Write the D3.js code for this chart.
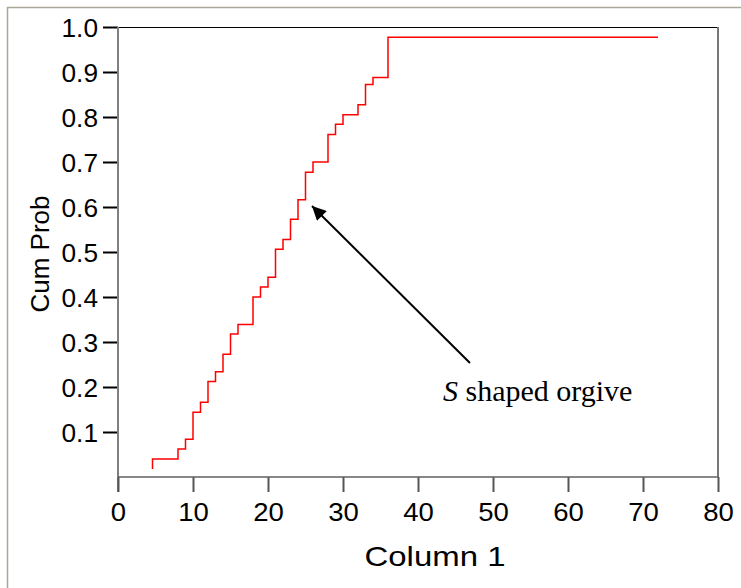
<!DOCTYPE html>
<html lang="en">
<head>
    <meta charset="UTF-8">
    <title>Cum Prob vs Column 1</title>
    <script src="https://d3js.org/d3.v7.min.js"></script>
    <style>
        body { margin: 0; background: white; }
        text { font-family: 'Liberation Sans', Arial, sans-serif; fill: black; }
        .note { font-family: 'Liberation Serif', 'Times New Roman', serif; }
    </style>
</head>
<body>
    <svg id="canvas" width="741" height="588"></svg>
    <script>
        // step positions (Column 1) and cumulative probability after each jump
        let stepX = [4.6, 8, 9, 10, 11, 12, 13, 14, 15, 16, 18, 19, 20, 21, 22, 23, 24, 25, 26, 28, 29, 30, 32, 33, 34, 36];
        let stepP = [0.040, 0.062, 0.084, 0.144, 0.166, 0.212, 0.234, 0.273, 0.318, 0.339, 0.400, 0.422, 0.444, 0.506,
                     0.528, 0.573, 0.616, 0.677, 0.700, 0.761, 0.784, 0.805, 0.827, 0.872, 0.888, 0.977];
        let startP = 0.018;
        let maxX = 72;
        let xTicks = [0, 10, 20, 30, 40, 50, 60, 70, 80];
        let yTicks = [0.1, 0.2, 0.3, 0.4, 0.5, 0.6, 0.7, 0.8, 0.9, 1.0];

        let svg = d3.select('#canvas');
        let x = d3.scaleLinear().domain([0, 80]).range([118, 718]);
        let y = d3.scaleLinear().domain([0, 1]).range([477, 27]);

        // outer panel border
        svg.append('rect')
            .attr('x', 7.5).attr('y', 7.5)
            .attr('width', 800).attr('height', 700)
            .attr('fill', 'white')
            .attr('stroke', '#aca899').attr('stroke-width', 1.5);

        // frame: top black, right gray
        svg.append('line')
            .attr('x1', x(0)).attr('x2', x(80)).attr('y1', y(1) + 0.5).attr('y2', y(1) + 0.5)
            .attr('stroke', 'black').attr('stroke-width', 1);
        svg.append('line')
            .attr('x1', x(80)).attr('x2', x(80)).attr('y1', y(1)).attr('y2', y(0))
            .attr('stroke', '#777').attr('stroke-width', 2);

        // y axis
        let yAxis = svg.append('g').attr('transform', 'translate(' + x(0) + ',0)')
            .call(d3.axisLeft(y).tickValues(yTicks).tickFormat(d3.format('.1f')).tickSize(15).tickPadding(5));
        yAxis.select('.domain').remove();
        yAxis.selectAll('.tick line').attr('stroke', 'black').attr('stroke-width', 2);
        yAxis.selectAll('.tick text')
            .attr('font-size', 25)
            .attr('dy', '0.36em')
            .attr('transform', 'translate(-20,0) scale(1.05,1) translate(20,0)');
        yAxis.append('line')
            .attr('x1', 0).attr('x2', 0).attr('y1', y(1)).attr('y2', y(0) + 15)
            .attr('stroke', '#808080').attr('stroke-width', 2);

        // x axis
        let xAxis = svg.append('g').attr('transform', 'translate(0,' + y(0) + ')')
            .call(d3.axisBottom(x).tickValues(xTicks).tickSize(15).tickPadding(11));
        xAxis.select('.domain').remove();
        xAxis.selectAll('.tick line').attr('stroke', '#555').attr('stroke-width', 2);
        xAxis.selectAll('.tick text')
            .attr('font-size', 25)
            .attr('transform', 'scale(1.1,1)');
        xAxis.append('line')
            .attr('x1', x(0)).attr('x2', x(80)).attr('y1', 0).attr('y2', 0)
            .attr('stroke', '#606060').attr('stroke-width', 1.5);

        // axis titles
        svg.append('text')
            .attr('text-anchor', 'middle')
            .attr('font-size', 27)
            .attr('transform', 'translate(435,566) scale(1.22,1)')
            .text('Column 1');
        svg.append('text')
            .attr('text-anchor', 'middle')
            .attr('font-size', 26)
            .attr('transform', 'translate(49,254) rotate(-90)')
            .text('Cum Prob');

        // step curve
        let pts = [[stepX[0], startP]];
        stepX.forEach(function (sx, i) {
            if (i > 0) pts.push([sx, stepP[i - 1]]);
            pts.push([sx, stepP[i]]);
        });
        pts.push([maxX, stepP[stepP.length - 1]]);
        svg.append('path')
            .datum(pts)
            .attr('fill', 'none')
            .attr('stroke', 'red')
            .attr('stroke-width', 1.5)
            .attr('d', d3.line().x(function (d) { return x(d[0]); }).y(function (d) { return y(d[1]); }));

        // annotation arrow
        svg.append('defs').append('marker')
            .attr('id', 'head')
            .attr('viewBox', '0 0 10 10')
            .attr('refX', 10).attr('refY', 5)
            .attr('markerWidth', 18).attr('markerHeight', 14)
            .attr('markerUnits', 'userSpaceOnUse')
            .attr('orient', 'auto')
            .append('path').attr('d', 'M0,0 L10,5 L0,10 Z').attr('fill', 'black');
        svg.append('line')
            .attr('x1', 470).attr('y1', 363)
            .attr('x2', 312).attr('y2', 206)
            .attr('stroke', 'black').attr('stroke-width', 2)
            .attr('marker-end', 'url(#head)');

        let note = svg.append('text').attr('class', 'note')
            .attr('x', 443).attr('y', 401)
            .attr('font-size', 30);
        note.append('tspan').attr('font-style', 'italic').text('S');
        note.append('tspan').text(' shaped orgive');
    </script>
</body>
</html>
